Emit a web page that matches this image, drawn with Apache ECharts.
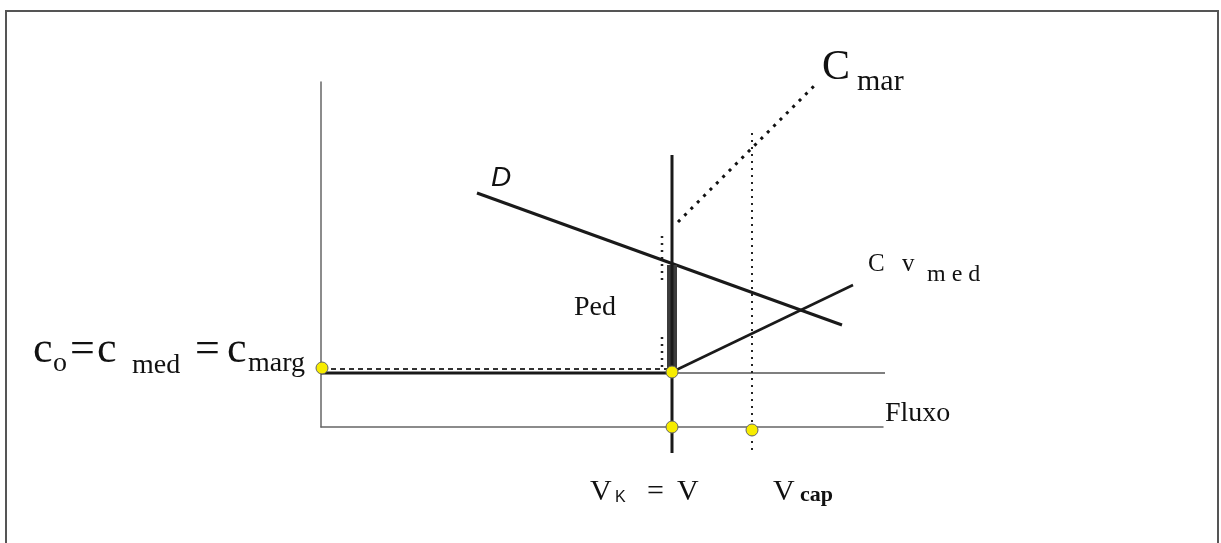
<!DOCTYPE html>
<html>
<head>
<meta charset="utf-8">
<script src="https://cdn.jsdelivr.net/npm/echarts@6/dist/echarts.min.js"></script>
<style>
  html, body { margin: 0; padding: 0; background: #fff; }
  #main { width: 1221px; height: 543px; }
</style>
</head>
<body>
<div id="main"></div>
<script>
// diagram units: x = flow, y = cost (origin at the axes corner)
var demandD = [[156, 234], [521, 102]];
var costCvMed = [[351, 55], [532, 142]];
var costCMar = [[357, 205], [496, 344]];
var capLine = [[431, 294], [431, -23]];
var volumeLine = [[351, 272], [351, -26]];
var costLevel = [[0, 54], [351, 54]];
var costLevelExt = [[351, 54], [584, 54]];
var costDashed = [[1, 58], [347, 58]];
var pedDots1 = [[341, 191], [341, 144]];
var pedDots2 = [[341, 90], [341, 57]];
var pedBar = [[351, 57], [351, 162]];
var keyPoints = [[1, 59], [351, 55], [351, 0], [431, -3]];

var myChart = echarts.init(document.getElementById('main'));

var serif = '"Liberation Serif", "Times New Roman", serif';
var sans = '"Liberation Sans", Arial, sans-serif';

// text piece placed by its baseline
function t(x, base, str, size, fam, extra) {
  return {
    type: 'text',
    x: x,
    y: base - size * 0.33,
    silent: true,
    style: {
      text: str,
      font: (extra || '') + ' ' + size + 'px ' + fam,
      fill: '#111',
      verticalAlign: 'middle',
      align: 'left'
    }
  };
}

function line(data, width, type, color) {
  return {
    type: 'line',
    data: data,
    symbol: 'none',
    clip: false,
    silent: true,
    animation: false,
    lineStyle: { width: width, type: type || 'solid', color: color || '#1a1a1a' }
  };
}

option = {
  animation: false,
  grid: { left: 321, top: 82, width: 562, height: 345 },
  xAxis: {
    type: 'value', min: 0, max: 562,
    splitLine: { show: false }, axisTick: { show: false }, axisLabel: { show: false },
    axisLine: { lineStyle: { color: '#666', width: 1.5 } }
  },
  yAxis: {
    type: 'value', min: 0, max: 345,
    splitLine: { show: false }, axisTick: { show: false }, axisLabel: { show: false },
    axisLine: { lineStyle: { color: '#666', width: 1.5 } }
  },
  graphic: [
    {
      type: 'rect', silent: true,
      shape: { x: 6, y: 11, width: 1212, height: 560 },
      style: { fill: 'none', stroke: '#555', lineWidth: 2 }
    },
    // c_o = c_med = c_marg
    t(33, 365, 'c', 44, serif),
    t(53, 373, 'o', 28, serif),
    t(70, 365, '=', 44, serif),
    t(97, 365, 'c', 44, serif),
    t(132, 375, 'med', 28, serif),
    t(195, 365, '=', 44, serif),
    t(227, 365, 'c', 44, serif),
    t(248, 373, 'marg', 28, serif),
    // C_mar
    t(822, 82, 'C', 42, serif),
    t(857, 92, 'mar', 30, serif),
    // Cv_med
    t(868, 273, 'C', 25, serif),
    t(902, 273, 'v', 25, serif),
    t(927, 283, 'm e d', 24, serif),
    // D
    t(491, 187, 'D', 28, sans, 'italic'),
    // Ped
    t(574, 317, 'Ped', 28, serif),
    // Fluxo
    t(885, 423, 'Fluxo', 28, serif),
    // V_K = V
    t(590, 502, 'V', 30, serif),
    t(615, 503, 'K', 16, sans),
    t(647, 502, '=', 30, serif),
    t(677, 502, 'V', 30, serif),
    // V_cap
    t(773, 502, 'V', 30, serif),
    t(800, 503, 'cap', 22, serif, 'bold')
  ],
  series: [
    line(costLevelExt, 1.5, 'solid', '#555'),
    line(costLevel, 3),
    line(costDashed, 2, [5, 4], '#333'),
    line(pedDots1, 2.5, [2, 5], '#222'),
    line(pedDots2, 2.5, [2, 5], '#222'),
    line(capLine, 2, [2, 5], '#222'),
    line(costCMar, 3, [3, 6], '#111'),
    line(demandD, 3),
    line(costCvMed, 2.5),
    line(pedBar, 10, 'solid', '#3c3c3c'),
    line(volumeLine, 3),
    {
      type: 'scatter',
      data: keyPoints,
      symbolSize: 12,
      clip: false,
      silent: true,
      z: 10,
      itemStyle: { color: '#f7ec00', borderColor: '#666', borderWidth: 1, opacity: 1 }
    }
  ]
};
myChart.setOption(option);
</script>
</body>
</html>
